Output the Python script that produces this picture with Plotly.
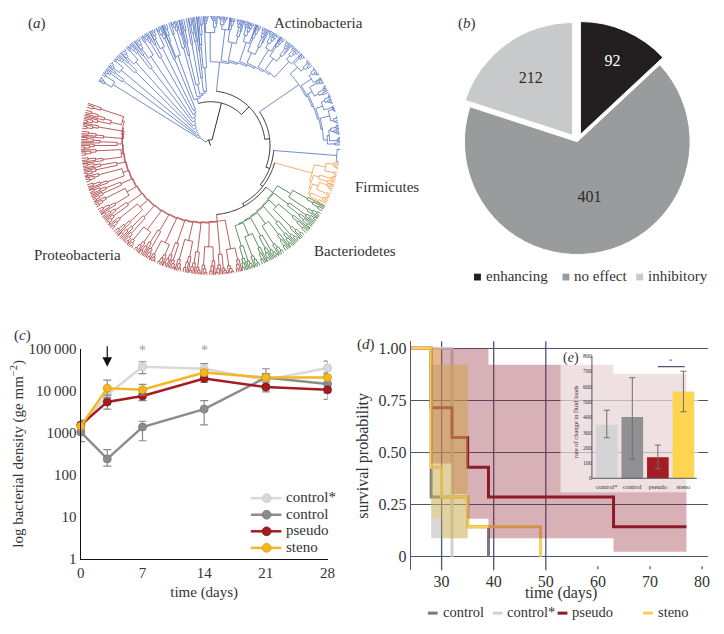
import numpy as np
import plotly.graph_objects as go

SERIF = "Liberation Serif, Times New Roman, serif"
TXT = "#333333"
# the page adds an 8px body margin, so the figure is 16px smaller than the window
PAGE_OFF = 8
W, H = 724 - 2 * PAGE_OFF, 634 - 2 * PAGE_OFF


def px(x):  # paper x from window pixel
    return (x - PAGE_OFF) / W


def py(y):  # paper y from window pixel (top origin)
    return 1 - (y - PAGE_OFF) / H


# ---------------- (a) phylogenetic tree (schematic) ----------------
TIP_R = 138
phylum_names = ["Actinobacteria", "Firmicutes", "Bacteriodetes", "Proteobacteria"]
phylum_colors = ["#4466bd", "#f7963a", "#2e6a30", "#a3282b"]
group_phylum = [0, 0, 0, 0, 0, 1, 2, 3]
group_ladder_r = [(14, 40), (50, 56), (86, 96), (110, 116), (126, 128), (108, 112), (80, 86), (78, 92)]
backbone_r = [6, 45, 56, 61, 65, 68, 71]
# subclades: (start angle, end angle, base radius, tips)
group_subclades = [
    [(150, 146, 118, 8), (146, 142, 112, 8), (142, 138, 120, 7), (138, 134, 108, 8), (134, 130, 115, 7),
     (130, 126, 100, 8), (126, 122, 110, 7), (122, 118, 104, 8), (118, 115, 112, 6), (115, 112, 96, 6)],
    [(112, 108, 98, 8), (108, 104, 104, 8), (104, 100, 64, 8), (100, 96, 70, 8), (96, 93, 80, 6)],
    [(93, 87, 116, 12), (87, 81, 120, 12), (81, 75, 108, 12), (75, 69, 112, 12), (69, 63, 104, 12),
     (63, 57, 115, 12), (57, 51, 110, 12), (51, 45, 118, 12)],
    [(45, 38, 120, 13), (38, 31, 124, 13), (31, 24, 118, 13), (24, 17, 122, 13), (17, 10, 126, 13),
     (10, 0, 120, 18)],
    [(-1, -8, 130, 10)],
    [(-8, -13, 120, 8), (-13, -18, 116, 8), (-18, -23, 118, 8), (-23, -28, 114, 8)],
    [(-28, -34, 96, 10), (-34, -40, 100, 10), (-40, -46, 92, 10), (-46, -52, 104, 10), (-52, -58, 98, 10),
     (-58, -64, 106, 10), (-64, -70, 100, 10), (-70, -76, 108, 10)],
    [(-76, -82, 108, 10), (-82, -88, 112, 10), (-88, -94, 104, 10), (-94, -100, 110, 10), (-100, -106, 100, 10),
     (-106, -112, 106, 10), (-112, -118, 110, 10), (-118, -124, 102, 10), (-124, -130, 108, 10),
     (-130, -136, 100, 10), (-136, -142, 96, 10), (-142, -148, 104, 10), (-148, -154, 98, 10),
     (-154, -160, 100, 10), (-160, -166, 94, 10), (-166, -172, 98, 10), (-172, -178, 92, 10),
     (-178, -184, 96, 10), (-184, -190, 90, 10), (-190, -199, 94, 14)],
]
CHUNK = 5


def arc(r, a0, a1):
    n = max(2, int(abs(a1 - a0) / 1.0) + 2)
    return [r] * n, list(np.linspace(a0, a1, n))


def radial(a, r0, r1):
    return [r0, r1], [a, a]


class Store:
    def __init__(self):
        self.r, self.t = [], []

    def add(self, seg):
        self.r.extend(list(seg[0]) + [None])
        self.t.extend(list(seg[1]) + [None])


def ladder(children, node_r, store, stem_stores=None):
    n = len(children)
    stem_stores = stem_stores or [store] * n
    angs = [c[0] for c in children]
    if n == 1:
        stem_stores[0].add(radial(angs[0], node_r[0], children[0][1]))
        return angs[0]
    rest = [0.0] * n
    rest[-1] = angs[-1]
    for j in range(n - 2, -1, -1):
        rest[j] = (angs[j] + rest[j + 1]) / 2
    for j in range(n - 1):
        r = node_r[j]
        store.add(arc(r, angs[j], rest[j + 1]))
        stem_stores[j].add(radial(angs[j], r, children[j][1]))
        if j + 1 == n - 1:
            stem_stores[n - 1].add(radial(angs[n - 1], r, children[n - 1][1]))
        else:
            store.add(radial(rest[j + 1], r, node_r[j + 1]))
    return rest[0]


def lin(r0, r1, n):
    return list(np.linspace(r0, r1, max(n - 1, 1)))


stores = [Store() for _ in phylum_names]
black = Store()

group_children = []
for gi, subs in enumerate(group_subclades):
    st = stores[group_phylum[gi]]
    sub_children = []
    for si, (ts, te, br, n) in enumerate(subs):
        tips = list(np.linspace(ts, te, n))
        chunks = [tips[k:k + CHUNK] for k in range(0, n, CHUNK)]
        ch_children = []
        for ci, ch in enumerate(chunks):
            rc = br + (TIP_R - br) * (0.42 + 0.14 * ((ci + si) % 2))
            seq = ch[::-1] if (ci + si) % 2 else ch
            a = ladder([(t, TIP_R) for t in seq], lin(rc, TIP_R - 4, len(seq)), st)
            ch_children.append((a, rc))
        min_rc = min(c[1] for c in ch_children)
        if si % 2:
            ch_children = ch_children[::-1]
        a_sub = ladder(ch_children, lin(br, br + (min_rc - br) * 0.6, len(ch_children)), st)
        sub_children.append((a_sub, br))
    g0, g1 = group_ladder_r[gi]
    a_grp = ladder(sub_children, lin(g0, g1, len(sub_children)), st)
    group_children.append((a_grp, g0))

root_ang = ladder(group_children, backbone_r, black, [stores[p] for p in group_phylum])
black.add(radial(root_ang, 0, backbone_r[0]))

fig = go.Figure()
for i, name in enumerate(phylum_names):
    fig.add_trace(go.Scatterpolar(r=stores[i].r, theta=stores[i].t, mode="lines", cliponaxis=False,
                                  line=dict(color=phylum_colors[i], width=0.75),
                                  subplot="polar", showlegend=False, hoverinfo="skip", name=name))
fig.add_trace(go.Scatterpolar(r=black.r, theta=black.t, mode="lines", cliponaxis=False,
                              line=dict(color="#1a1a1a", width=0.9),
                              subplot="polar", showlegend=False, hoverinfo="skip"))

# ---------------- (b) pie ----------------
effect_labels = ["enhancing", "no effect", "inhibitory"]
effect_counts = [92, 401, 212]
effect_slice_deg = [47, 241, 72]          # slice angles as drawn in the reference
effect_colors = ["#231f20", "#9a9b9d", "#c8c9cb"]
effect_pull = [0.07, 0.0, 0.07]
effect_text_colors = ["#ffffff", "#2b2b2b", "#2b2b2b"]

fig.add_trace(go.Pie(labels=effect_labels, values=effect_slice_deg, text=[str(c) for c in effect_counts],
                     textinfo="text", sort=False, direction="clockwise",
                     rotation=0, pull=effect_pull, insidetextorientation="horizontal",
                     marker=dict(colors=effect_colors, line=dict(color="white", width=1)),
                     textfont=dict(family=SERIF, size=16, color=effect_text_colors),
                     domain=dict(x=[px(459), px(707)], y=[py(261), py(13)]),
                     showlegend=False, hoverinfo="skip"))

# ---------------- (c) bacterial density ----------------
days = [0, 3, 7, 14, 21, 28]
day_ticks = [0, 7, 14, 21, 28]
density_names = ["control*", "control", "pseudo", "steno"]
density_colors = ["#d9d9d9", "#8c8c8c", "#a51b22", "#f3b81f"]
density_edge = ["#c4c4c4", "#7a7a7a", "#8a1419", "#d99c0c"]
density_mean = [
    [1400, 8200, 38000, 34000, 18300, 35600],
    [1050, 240, 1380, 3700, 21000, 14800],
    [1550, 5500, 7600, 20000, 12400, 10700],
    [1450, 11700, 10700, 27700, 21000, 21000],
]
density_hi = [
    [1900, 11000, 50000, 45000, 25000, 52000],
    [2000, 400, 1900, 5900, 34000, 20000],
    [2000, 8000, 9500, 24000, 16000, 15000],
    [1900, 18300, 14500, 32000, 26000, 27000],
]
density_lo = [
    [1100, 6000, 26000, 26000, 14000, 25000],
    [620, 162, 650, 1560, 13000, 9000],
    [1200, 3700, 5900, 16000, 9500, 6300],
    [1150, 7000, 8000, 23000, 16000, 16000],
]

for i, nm in enumerate(density_names):
    mean = density_mean[i]
    fig.add_trace(go.Scatter(
        x=days, y=mean, mode="lines+markers", name=nm,
        line=dict(color=density_colors[i], width=2.5),
        marker=dict(size=8, color=density_colors[i], line=dict(color=density_edge[i], width=0.8)),
        error_y=dict(type="data", symmetric=False,
                     array=[h - v for h, v in zip(density_hi[i], mean)],
                     arrayminus=[v - l for l, v in zip(density_lo[i], mean)],
                     color="#8a8a8a", thickness=1.2, width=4),
        cliponaxis=False, xaxis="x", yaxis="y", showlegend=False, hoverinfo="skip"))

# ---------------- (d) survival ----------------
surv_names = ["control", "control*", "pseudo", "steno"]
surv_colors = ["#7b7b7b", "#d2d2d2", "#8e1b2b", "#f9cf55"]
surv_fill = ["rgba(125,125,125,0.30)", "rgba(200,200,200,0.30)",
             "rgba(142,27,43,0.34)", "rgba(245,200,70,0.38)"]
surv_time = [
    [0, 28, 35, 39],
    [0, 32],
    [0, 28, 32, 35, 39, 63, 77],
    [0, 28, 30, 35, 49],
]
surv_prob = [
    [1.0, 0.2857, 0.1429, 0.0],
    [1.0, 0.0],
    [1.0, 0.7143, 0.5714, 0.4286, 0.2857, 0.1429, 0.1429],
    [1.0, 0.4286, 0.2857, 0.1429, 0.0],
]
ci_start = [[28], [], [28, 32, 35, 39, 63], [28, 30]]
ci_end = [[35], [], [32, 35, 39, 63, 77], [30, 35]]
ci_low = [[0.0885], [], [0.447, 0.301, 0.182, 0.0885, 0.0233], [0.182, 0.0885]]
ci_high = [[0.92], [], [1.0, 1.0, 1.0, 0.92, 0.877], [1.0, 0.92]]

for i, nm in enumerate(surv_names):
    fig.add_trace(go.Scatter(x=surv_time[i], y=surv_prob[i], mode="lines", line_shape="hv",
                             line=dict(color=surv_colors[i], width=3), name=nm,
                             xaxis="x2", yaxis="y2", showlegend=False, hoverinfo="skip"))
for i, nm in enumerate(surv_names):
    if not ci_start[i]:
        continue
    rows = list(zip(ci_start[i], ci_end[i], ci_low[i], ci_high[i]))
    xs, ys = [], []
    for a, b, lo, hi in rows:
        xs += [a, b]
        ys += [hi, hi]
    for a, b, lo, hi in reversed(rows):
        xs += [b, a]
        ys += [lo, lo]
    fig.add_trace(go.Scatter(x=xs, y=ys, mode="lines", fill="toself", fillcolor=surv_fill[i],
                             line=dict(width=0), xaxis="x2", yaxis="y2",
                             showlegend=False, hoverinfo="skip"))

# ---------------- (e) inset bars ----------------
bar_groups = ["control*", "control", "pseudo", "steno"]
bar_vals = [350, 400, 138, 567]
bar_hi = [445, 658, 217, 700]
bar_lo = [265, 125, 62, 435]
bar_colors = ["#d3d4d5", "#8f9092", "#a31c24", "#fed450"]
sig_pair = ["pseudo", "steno"]
sig_level = 730

fig.add_trace(go.Bar(x=bar_groups, y=bar_vals, marker=dict(color=bar_colors, line=dict(width=0)),
                     error_y=dict(type="data", symmetric=False,
                                  array=[h - v for h, v in zip(bar_hi, bar_vals)],
                                  arrayminus=[v - l for l, v in zip(bar_lo, bar_vals)],
                                  color="#6e6e6e", thickness=1, width=3),
                     xaxis="x3", yaxis="y3", showlegend=False, hoverinfo="skip"))

grid_col = "#4e5675"
grid_days = [30, 40, 50]
shapes = []
for g in grid_days:
    shapes.append(dict(type="line", xref="x2", yref="y2 domain", x0=g, x1=g, y0=0, y1=1,
                       line=dict(color=grid_col, width=1.3), layer="below"))
for g in [60, 70, 80]:
    shapes.append(dict(type="line", xref="x2", yref="paper", x0=g, x1=g, y0=py(576), y1=py(573),
                       line=dict(color=grid_col, width=1.3)))
inset_left = -0.58
shapes.append(dict(type="line", xref="x3", yref="y3", x0=inset_left, x1=inset_left, y0=0, y1=800,
                   line=dict(color="#555555", width=1), layer="above"))
shapes.append(dict(type="line", xref="x3", yref="y3", x0=inset_left, x1=3.52, y0=0, y1=0,
                   line=dict(color="#555555", width=1), layer="above"))
shapes.append(dict(type="line", xref="x3", yref="y3", x0=bar_groups.index(sig_pair[0]),
                   x1=bar_groups.index(sig_pair[1]) + 0.05, y0=sig_level, y1=sig_level,
                   line=dict(color="#4e5675", width=1.2), layer="above"))

ann = []


def lab(text, x, y, size=15, xanchor="left", color=TXT, yanchor="middle"):
    ann.append(dict(text=text, x=px(x), y=py(y), xref="paper", yref="paper", showarrow=False,
                    xanchor=xanchor, yanchor=yanchor, font=dict(family=SERIF, size=size, color=color)))


lab("(<i>a</i>)", 22, 16)
lab("(<i>b</i>)", 460, 16)
lab("(<i>c</i>)", 8, 336)
lab("(<i>d</i>)", 357, 345)
lab("(<i>e</i>)", 566, 359, size=14)
lab(phylum_names[0], 272, 15)
lab(phylum_names[1], 355, 184)
lab(phylum_names[2], 313, 249)
lab(phylum_names[3], 28, 253)
# x title of (d)
lab("time (days)", 566, 600, size=16, xanchor="center")

# legend of (b): square + label
pie_leg_x = [478, 568, 643]
pie_leg_y = 276
for lx, l, c in zip(pie_leg_x, effect_labels, effect_colors):
    shapes.append(dict(type="rect", xref="paper", yref="paper", x0=px(lx), x1=px(lx + 7),
                       y0=py(pie_leg_y + 3.5), y1=py(pie_leg_y - 3.5), fillcolor=c, line=dict(width=0)))
    lab(l, lx + 10, pie_leg_y - 1)

# legend of (c): line + marker + label
c_leg_y = [503, 520, 537, 554]
for ly, nm, c, e in zip(c_leg_y, density_names, density_colors, density_edge):
    shapes.append(dict(type="line", xref="paper", yref="paper", x0=px(251), x1=px(282), y0=py(ly), y1=py(ly),
                       line=dict(color=c, width=2.5)))
    shapes.append(dict(type="circle", xref="paper", yref="paper", x0=px(262.5), x1=px(271.5),
                       y0=py(ly + 4.5), y1=py(ly - 4.5), fillcolor=c, line=dict(color=e, width=0.8)))
    lab(nm, 285, ly - 1)

# legend of (d): short dash + label
d_leg_x = [431, 497, 563, 650]
d_leg_y = 621
for lx, nm, c in zip(d_leg_x, surv_names, surv_colors):
    shapes.append(dict(type="line", xref="paper", yref="paper", x0=px(lx), x1=px(lx + 10),
                       y0=py(d_leg_y), y1=py(d_leg_y), line=dict(color=c, width=3)))
    lab(nm, lx + 13, d_leg_y - 1, size=14.5)

# arrow and stars for (c)
ann.append(dict(x=3, y=4.58, xref="x", yref="y", ax=0, ay=-22, axref="pixel", ayref="pixel", text="",
                showarrow=True, arrowhead=2, arrowsize=1.6, arrowwidth=1.2, arrowcolor="#111111"))
for d in [7, 14]:
    ann.append(dict(x=d, y=4.96, xref="x", yref="y", text="*", showarrow=False,
                    font=dict(family=SERIF, size=14, color="#9a9a9a")))
ann.append(dict(x=(bar_groups.index(sig_pair[0]) + bar_groups.index(sig_pair[1])) / 2, y=sig_level + 40,
                xref="x3", yref="y3", text="*", showarrow=False,
                font=dict(family=SERIF, size=7, color="#555555")))

axis_font = dict(family=SERIF, size=15, color=TXT)
axis_font_d = dict(family=SERIF, size=16, color=TXT)

# polar: circle centred at window (210, 141); domain must stay inside the figure
pc_x, pc_y, half = 210, 141, 133
fig.update_layout(
    width=W, height=H, margin=dict(l=0, r=0, t=0, b=0),
    paper_bgcolor="white", plot_bgcolor="rgba(255,255,255,0.6)",
    hovermode=False, showlegend=False,
    polar=dict(domain=dict(x=[px(pc_x - half), px(pc_x + half)], y=[py(pc_y + half), py(pc_y - half)]),
               bgcolor="rgba(0,0,0,0)",
               radialaxis=dict(visible=False, range=[0, half]),
               angularaxis=dict(visible=False, rotation=0, direction="counterclockwise")),
    xaxis=dict(domain=[px(78), px(329)], range=[0, 28], tickvals=day_ticks,
               showline=True, linecolor="#111111", linewidth=1.3, showgrid=False, zeroline=False,
               ticks="", tickfont=axis_font, anchor="y",
               title=dict(text="time (days)", font=axis_font, standoff=6)),
    yaxis=dict(domain=[py(565), py(350)], type="log", range=[0, 5],
               tickvals=[1, 10, 100, 1000, 10000, 100000],
               ticktext=["1", "10", "100", "1000", "10\u2009000", "100\u2009000"],
               showline=True, linecolor="#111111", linewidth=1.3, showgrid=False, zeroline=False,
               ticks="", tickfont=axis_font, anchor="x",
               title=dict(text="log bacterial density (ge mm<sup>\u22122</sup>)",
                          font=dict(family=SERIF, size=15, color=TXT), standoff=8)),
    xaxis2=dict(domain=[px(414), px(716)], range=[24.15, 81.13], tickvals=[30, 40, 50, 60, 70, 80],
                showgrid=False, showline=False, zeroline=False, ticks="", tickfont=axis_font_d,
                anchor="y2"),
    yaxis2=dict(domain=[py(577), py(342)], range=[-0.0654, 1.0327],
                tickvals=[0, 0.25, 0.5, 0.75, 1.0], ticktext=["0", "0.25", "0.50", "0.75", "1.00"],
                showgrid=True, gridcolor=grid_col, gridwidth=1.3, showline=True, linecolor=grid_col,
                linewidth=1.3, zeroline=False, ticks="", tickfont=axis_font_d, anchor="x2",
                title=dict(text="survival probability", font=axis_font_d, standoff=6)),
    xaxis3=dict(domain=[px(566), px(706)], range=[-1.808, 3.577], anchor="free", position=py(485.7),
                showgrid=False, showline=False, zeroline=False, ticks="",
                tickfont=dict(family=SERIF, size=6.5, color=TXT), type="category"),
    yaxis3=dict(domain=[py(497), py(352)], range=[-91.9, 831.8], anchor="free", position=px(598),
                tickvals=[0, 100, 200, 300, 400, 500, 600, 700, 800], showgrid=False, showline=False,
                zeroline=False, ticks="", tickfont=dict(family=SERIF, size=6, color=TXT),
                title=dict(text="rate of change in fluid loads", font=dict(family=SERIF, size=6.5, color=TXT),
                           standoff=2)),
    bargap=0.154,
    shapes=shapes, annotations=ann,
)

fig.write_html("out.html", config={"displayModeBar": False, "staticPlot": True})
